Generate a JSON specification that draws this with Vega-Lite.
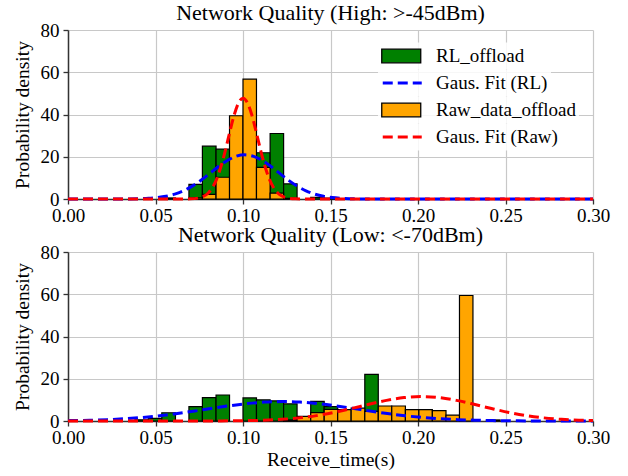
{
  "$schema": "https://vega.github.io/schema/vega-lite/v6.json",
  "background": "white",
  "padding": {"left": 12, "top": 2, "right": 6, "bottom": 2},
  "spacing": -1,
  "config": {
    "font": "Liberation Serif",
    "view": {"stroke": null},
    "axis": {
      "grid": true, "gridColor": "#c8c8c8", "gridWidth": 1.2,
      "domainColor": "#333333", "domainWidth": 1.5,
      "tickColor": "#333333", "tickSize": 5, "tickWidth": 1.3,
      "labelFont": "Liberation Serif", "labelFontSize": 19, "labelColor": "#000000", "labelPadding": 4, "labelFlush": false,
      "titleFont": "Liberation Serif", "titleFontSize": 19.5, "titleFontWeight": "normal", "titleColor": "#000000"
    },
    "axisX": {"labelPadding": 2},
    "legend": {
      "orient": "none", "title": null, "padding": 3, "clipHeight": 21,
      "fillColor": "rgba(255,255,255,0.85)",
      "labelFont": "Liberation Serif", "labelFontSize": 19, "labelColor": "#000000",
      "symbolSize": 380, "symbolOpacity": 1, "legendX": 310
    },
    "title": {"font": "Liberation Serif", "fontSize": 22, "fontWeight": "normal", "color": "#000000", "offset": -4}
  },
  "datasets": {
    "bars": [
      {"p": "High", "s": "RL_offload", "x0": 0.0536, "x1": 0.0614, "y": 0.5},
      {"p": "High", "s": "RL_offload", "x0": 0.0691, "x1": 0.0768, "y": 6.9},
      {"p": "High", "s": "RL_offload", "x0": 0.0768, "x1": 0.0846, "y": 25.0},
      {"p": "High", "s": "RL_offload", "x0": 0.0846, "x1": 0.0923, "y": 23.6},
      {"p": "High", "s": "RL_offload", "x0": 0.0923, "x1": 0.1000, "y": 10.0},
      {"p": "High", "s": "RL_offload", "x0": 0.1000, "x1": 0.1077, "y": 5.0},
      {"p": "High", "s": "RL_offload", "x0": 0.1077, "x1": 0.1155, "y": 21.9},
      {"p": "High", "s": "RL_offload", "x0": 0.1155, "x1": 0.1232, "y": 31.0},
      {"p": "High", "s": "RL_offload", "x0": 0.1232, "x1": 0.1309, "y": 7.2},
      {"p": "High", "s": "RL_offload", "x0": 0.1387, "x1": 0.1464, "y": 0.8},
      {"p": "High", "s": "RL_offload", "x0": 0.1464, "x1": 0.1541, "y": 0.4},
      {"p": "High", "s": "Raw_data_offload", "x0": 0.0691, "x1": 0.0768, "y": 0.6},
      {"p": "High", "s": "Raw_data_offload", "x0": 0.0768, "x1": 0.0846, "y": 2.2},
      {"p": "High", "s": "Raw_data_offload", "x0": 0.0846, "x1": 0.0923, "y": 10.3},
      {"p": "High", "s": "Raw_data_offload", "x0": 0.0923, "x1": 0.1000, "y": 39.4},
      {"p": "High", "s": "Raw_data_offload", "x0": 0.1000, "x1": 0.1077, "y": 56.7},
      {"p": "High", "s": "Raw_data_offload", "x0": 0.1077, "x1": 0.1155, "y": 15.0},
      {"p": "High", "s": "Raw_data_offload", "x0": 0.1155, "x1": 0.1232, "y": 2.8},
      {"p": "High", "s": "Raw_data_offload", "x0": 0.1232, "x1": 0.1309, "y": 0.3},
      {"p": "Low", "s": "RL_offload", "x0": 0.0382, "x1": 0.0459, "y": 0.6},
      {"p": "Low", "s": "RL_offload", "x0": 0.0459, "x1": 0.0536, "y": 1.2},
      {"p": "Low", "s": "RL_offload", "x0": 0.0536, "x1": 0.0614, "y": 3.9},
      {"p": "Low", "s": "RL_offload", "x0": 0.0691, "x1": 0.0768, "y": 6.8},
      {"p": "Low", "s": "RL_offload", "x0": 0.0768, "x1": 0.0846, "y": 11.1},
      {"p": "Low", "s": "RL_offload", "x0": 0.0846, "x1": 0.0923, "y": 12.3},
      {"p": "Low", "s": "RL_offload", "x0": 0.1000, "x1": 0.1077, "y": 10.9},
      {"p": "Low", "s": "RL_offload", "x0": 0.1077, "x1": 0.1155, "y": 10.0},
      {"p": "Low", "s": "RL_offload", "x0": 0.1155, "x1": 0.1232, "y": 9.5},
      {"p": "Low", "s": "RL_offload", "x0": 0.1232, "x1": 0.1309, "y": 8.1},
      {"p": "Low", "s": "RL_offload", "x0": 0.1309, "x1": 0.1387, "y": 1.5},
      {"p": "Low", "s": "RL_offload", "x0": 0.1387, "x1": 0.1464, "y": 9.3},
      {"p": "Low", "s": "RL_offload", "x0": 0.1464, "x1": 0.1541, "y": 6.8},
      {"p": "Low", "s": "RL_offload", "x0": 0.1541, "x1": 0.1618, "y": 5.0},
      {"p": "Low", "s": "RL_offload", "x0": 0.1618, "x1": 0.1696, "y": 5.0},
      {"p": "Low", "s": "RL_offload", "x0": 0.1696, "x1": 0.1773, "y": 22.1},
      {"p": "Low", "s": "RL_offload", "x0": 0.1773, "x1": 0.1850, "y": 3.0},
      {"p": "Low", "s": "RL_offload", "x0": 0.1850, "x1": 0.1928, "y": 2.0},
      {"p": "Low", "s": "Raw_data_offload", "x0": 0.1232, "x1": 0.1309, "y": 0.5},
      {"p": "Low", "s": "Raw_data_offload", "x0": 0.1309, "x1": 0.1387, "y": 2.2},
      {"p": "Low", "s": "Raw_data_offload", "x0": 0.1387, "x1": 0.1464, "y": 4.0},
      {"p": "Low", "s": "Raw_data_offload", "x0": 0.1464, "x1": 0.1541, "y": 5.5},
      {"p": "Low", "s": "Raw_data_offload", "x0": 0.1541, "x1": 0.1618, "y": 5.4},
      {"p": "Low", "s": "Raw_data_offload", "x0": 0.1618, "x1": 0.1696, "y": 6.1},
      {"p": "Low", "s": "Raw_data_offload", "x0": 0.1696, "x1": 0.1773, "y": 4.6},
      {"p": "Low", "s": "Raw_data_offload", "x0": 0.1773, "x1": 0.1850, "y": 7.1},
      {"p": "Low", "s": "Raw_data_offload", "x0": 0.1850, "x1": 0.1928, "y": 7.1},
      {"p": "Low", "s": "Raw_data_offload", "x0": 0.1928, "x1": 0.2005, "y": 5.4},
      {"p": "Low", "s": "Raw_data_offload", "x0": 0.2005, "x1": 0.2082, "y": 5.4},
      {"p": "Low", "s": "Raw_data_offload", "x0": 0.2082, "x1": 0.2160, "y": 4.9},
      {"p": "Low", "s": "Raw_data_offload", "x0": 0.2160, "x1": 0.2237, "y": 2.8},
      {"p": "Low", "s": "Raw_data_offload", "x0": 0.2237, "x1": 0.2314, "y": 59.4},
      {"p": "Low", "s": "Raw_data_offload", "x0": 0.2391, "x1": 0.2469, "y": 0.5}
    ],
    "curves": [
      {"p": "High", "s": "Gaus. Fit (RL)", "x": 0.0, "y": 0.0},
      {"p": "High", "s": "Gaus. Fit (RL)", "x": 0.021, "y": 0.0},
      {"p": "High", "s": "Gaus. Fit (RL)", "x": 0.031, "y": 0.025},
      {"p": "High", "s": "Gaus. Fit (RL)", "x": 0.041, "y": 0.15},
      {"p": "High", "s": "Gaus. Fit (RL)", "x": 0.046, "y": 0.33},
      {"p": "High", "s": "Gaus. Fit (RL)", "x": 0.051, "y": 0.68},
      {"p": "High", "s": "Gaus. Fit (RL)", "x": 0.056, "y": 1.30},
      {"p": "High", "s": "Gaus. Fit (RL)", "x": 0.061, "y": 2.33},
      {"p": "High", "s": "Gaus. Fit (RL)", "x": 0.066, "y": 3.90},
      {"p": "High", "s": "Gaus. Fit (RL)", "x": 0.071, "y": 6.08},
      {"p": "High", "s": "Gaus. Fit (RL)", "x": 0.076, "y": 8.87},
      {"p": "High", "s": "Gaus. Fit (RL)", "x": 0.081, "y": 12.1},
      {"p": "High", "s": "Gaus. Fit (RL)", "x": 0.086, "y": 15.4},
      {"p": "High", "s": "Gaus. Fit (RL)", "x": 0.091, "y": 18.2},
      {"p": "High", "s": "Gaus. Fit (RL)", "x": 0.096, "y": 20.2},
      {"p": "High", "s": "Gaus. Fit (RL)", "x": 0.101, "y": 20.9},
      {"p": "High", "s": "Gaus. Fit (RL)", "x": 0.106, "y": 20.2},
      {"p": "High", "s": "Gaus. Fit (RL)", "x": 0.111, "y": 18.2},
      {"p": "High", "s": "Gaus. Fit (RL)", "x": 0.116, "y": 15.4},
      {"p": "High", "s": "Gaus. Fit (RL)", "x": 0.121, "y": 12.1},
      {"p": "High", "s": "Gaus. Fit (RL)", "x": 0.126, "y": 8.87},
      {"p": "High", "s": "Gaus. Fit (RL)", "x": 0.131, "y": 6.08},
      {"p": "High", "s": "Gaus. Fit (RL)", "x": 0.136, "y": 3.90},
      {"p": "High", "s": "Gaus. Fit (RL)", "x": 0.141, "y": 2.33},
      {"p": "High", "s": "Gaus. Fit (RL)", "x": 0.146, "y": 1.30},
      {"p": "High", "s": "Gaus. Fit (RL)", "x": 0.151, "y": 0.68},
      {"p": "High", "s": "Gaus. Fit (RL)", "x": 0.156, "y": 0.33},
      {"p": "High", "s": "Gaus. Fit (RL)", "x": 0.161, "y": 0.15},
      {"p": "High", "s": "Gaus. Fit (RL)", "x": 0.171, "y": 0.025},
      {"p": "High", "s": "Gaus. Fit (RL)", "x": 0.181, "y": 0.0},
      {"p": "High", "s": "Gaus. Fit (RL)", "x": 0.3, "y": 0.0},
      {"p": "High", "s": "Gaus. Fit (Raw)", "x": 0.0, "y": 0.0},
      {"p": "High", "s": "Gaus. Fit (Raw)", "x": 0.06, "y": 0.0},
      {"p": "High", "s": "Gaus. Fit (Raw)", "x": 0.065, "y": 0.007},
      {"p": "High", "s": "Gaus. Fit (Raw)", "x": 0.07, "y": 0.08},
      {"p": "High", "s": "Gaus. Fit (Raw)", "x": 0.075, "y": 0.55},
      {"p": "High", "s": "Gaus. Fit (Raw)", "x": 0.0775, "y": 1.28},
      {"p": "High", "s": "Gaus. Fit (Raw)", "x": 0.08, "y": 2.73},
      {"p": "High", "s": "Gaus. Fit (Raw)", "x": 0.0825, "y": 5.34},
      {"p": "High", "s": "Gaus. Fit (Raw)", "x": 0.085, "y": 9.54},
      {"p": "High", "s": "Gaus. Fit (Raw)", "x": 0.0875, "y": 15.6},
      {"p": "High", "s": "Gaus. Fit (Raw)", "x": 0.09, "y": 23.3},
      {"p": "High", "s": "Gaus. Fit (Raw)", "x": 0.0925, "y": 31.9},
      {"p": "High", "s": "Gaus. Fit (Raw)", "x": 0.095, "y": 39.9},
      {"p": "High", "s": "Gaus. Fit (Raw)", "x": 0.0975, "y": 45.6},
      {"p": "High", "s": "Gaus. Fit (Raw)", "x": 0.1, "y": 47.7},
      {"p": "High", "s": "Gaus. Fit (Raw)", "x": 0.1025, "y": 45.6},
      {"p": "High", "s": "Gaus. Fit (Raw)", "x": 0.105, "y": 39.9},
      {"p": "High", "s": "Gaus. Fit (Raw)", "x": 0.1075, "y": 31.9},
      {"p": "High", "s": "Gaus. Fit (Raw)", "x": 0.11, "y": 23.3},
      {"p": "High", "s": "Gaus. Fit (Raw)", "x": 0.1125, "y": 15.6},
      {"p": "High", "s": "Gaus. Fit (Raw)", "x": 0.115, "y": 9.54},
      {"p": "High", "s": "Gaus. Fit (Raw)", "x": 0.1175, "y": 5.34},
      {"p": "High", "s": "Gaus. Fit (Raw)", "x": 0.12, "y": 2.73},
      {"p": "High", "s": "Gaus. Fit (Raw)", "x": 0.1225, "y": 1.28},
      {"p": "High", "s": "Gaus. Fit (Raw)", "x": 0.125, "y": 0.55},
      {"p": "High", "s": "Gaus. Fit (Raw)", "x": 0.13, "y": 0.08},
      {"p": "High", "s": "Gaus. Fit (Raw)", "x": 0.135, "y": 0.007},
      {"p": "High", "s": "Gaus. Fit (Raw)", "x": 0.14, "y": 0.0},
      {"p": "High", "s": "Gaus. Fit (Raw)", "x": 0.3, "y": 0.0},
      {"p": "Low", "s": "Gaus. Fit (RL)", "x": 0.0, "y": 0.171},
      {"p": "Low", "s": "Gaus. Fit (RL)", "x": 0.0025, "y": 0.201},
      {"p": "Low", "s": "Gaus. Fit (RL)", "x": 0.0125, "y": 0.370},
      {"p": "Low", "s": "Gaus. Fit (RL)", "x": 0.0225, "y": 0.646},
      {"p": "Low", "s": "Gaus. Fit (RL)", "x": 0.0325, "y": 1.07},
      {"p": "Low", "s": "Gaus. Fit (RL)", "x": 0.0425, "y": 1.68},
      {"p": "Low", "s": "Gaus. Fit (RL)", "x": 0.0525, "y": 2.50},
      {"p": "Low", "s": "Gaus. Fit (RL)", "x": 0.0625, "y": 3.53},
      {"p": "Low", "s": "Gaus. Fit (RL)", "x": 0.0725, "y": 4.73},
      {"p": "Low", "s": "Gaus. Fit (RL)", "x": 0.0825, "y": 6.01},
      {"p": "Low", "s": "Gaus. Fit (RL)", "x": 0.0925, "y": 7.24},
      {"p": "Low", "s": "Gaus. Fit (RL)", "x": 0.1025, "y": 8.26},
      {"p": "Low", "s": "Gaus. Fit (RL)", "x": 0.1125, "y": 8.95},
      {"p": "Low", "s": "Gaus. Fit (RL)", "x": 0.1225, "y": 9.19},
      {"p": "Low", "s": "Gaus. Fit (RL)", "x": 0.1325, "y": 8.95},
      {"p": "Low", "s": "Gaus. Fit (RL)", "x": 0.1425, "y": 8.26},
      {"p": "Low", "s": "Gaus. Fit (RL)", "x": 0.1525, "y": 7.24},
      {"p": "Low", "s": "Gaus. Fit (RL)", "x": 0.1625, "y": 6.01},
      {"p": "Low", "s": "Gaus. Fit (RL)", "x": 0.1725, "y": 4.73},
      {"p": "Low", "s": "Gaus. Fit (RL)", "x": 0.1825, "y": 3.53},
      {"p": "Low", "s": "Gaus. Fit (RL)", "x": 0.1925, "y": 2.50},
      {"p": "Low", "s": "Gaus. Fit (RL)", "x": 0.2025, "y": 1.68},
      {"p": "Low", "s": "Gaus. Fit (RL)", "x": 0.2125, "y": 1.07},
      {"p": "Low", "s": "Gaus. Fit (RL)", "x": 0.2225, "y": 0.646},
      {"p": "Low", "s": "Gaus. Fit (RL)", "x": 0.2325, "y": 0.370},
      {"p": "Low", "s": "Gaus. Fit (RL)", "x": 0.2425, "y": 0.201},
      {"p": "Low", "s": "Gaus. Fit (RL)", "x": 0.2525, "y": 0.104},
      {"p": "Low", "s": "Gaus. Fit (RL)", "x": 0.2625, "y": 0.051},
      {"p": "Low", "s": "Gaus. Fit (RL)", "x": 0.2725, "y": 0.023},
      {"p": "Low", "s": "Gaus. Fit (RL)", "x": 0.2825, "y": 0.010},
      {"p": "Low", "s": "Gaus. Fit (RL)", "x": 0.2925, "y": 0.004},
      {"p": "Low", "s": "Gaus. Fit (RL)", "x": 0.3, "y": 0.002},
      {"p": "Low", "s": "Gaus. Fit (Raw)", "x": 0.0, "y": 0.0},
      {"p": "Low", "s": "Gaus. Fit (Raw)", "x": 0.062, "y": 0.002},
      {"p": "Low", "s": "Gaus. Fit (Raw)", "x": 0.072, "y": 0.010},
      {"p": "Low", "s": "Gaus. Fit (Raw)", "x": 0.082, "y": 0.027},
      {"p": "Low", "s": "Gaus. Fit (Raw)", "x": 0.092, "y": 0.072},
      {"p": "Low", "s": "Gaus. Fit (Raw)", "x": 0.102, "y": 0.173},
      {"p": "Low", "s": "Gaus. Fit (Raw)", "x": 0.112, "y": 0.385},
      {"p": "Low", "s": "Gaus. Fit (Raw)", "x": 0.122, "y": 0.79},
      {"p": "Low", "s": "Gaus. Fit (Raw)", "x": 0.132, "y": 1.48},
      {"p": "Low", "s": "Gaus. Fit (Raw)", "x": 0.142, "y": 2.55},
      {"p": "Low", "s": "Gaus. Fit (Raw)", "x": 0.152, "y": 4.04},
      {"p": "Low", "s": "Gaus. Fit (Raw)", "x": 0.162, "y": 5.90},
      {"p": "Low", "s": "Gaus. Fit (Raw)", "x": 0.172, "y": 7.92},
      {"p": "Low", "s": "Gaus. Fit (Raw)", "x": 0.182, "y": 9.77},
      {"p": "Low", "s": "Gaus. Fit (Raw)", "x": 0.192, "y": 11.08},
      {"p": "Low", "s": "Gaus. Fit (Raw)", "x": 0.202, "y": 11.56},
      {"p": "Low", "s": "Gaus. Fit (Raw)", "x": 0.212, "y": 11.08},
      {"p": "Low", "s": "Gaus. Fit (Raw)", "x": 0.222, "y": 9.77},
      {"p": "Low", "s": "Gaus. Fit (Raw)", "x": 0.232, "y": 7.92},
      {"p": "Low", "s": "Gaus. Fit (Raw)", "x": 0.242, "y": 5.90},
      {"p": "Low", "s": "Gaus. Fit (Raw)", "x": 0.252, "y": 4.04},
      {"p": "Low", "s": "Gaus. Fit (Raw)", "x": 0.262, "y": 2.55},
      {"p": "Low", "s": "Gaus. Fit (Raw)", "x": 0.272, "y": 1.48},
      {"p": "Low", "s": "Gaus. Fit (Raw)", "x": 0.282, "y": 0.79},
      {"p": "Low", "s": "Gaus. Fit (Raw)", "x": 0.292, "y": 0.385},
      {"p": "Low", "s": "Gaus. Fit (Raw)", "x": 0.3, "y": 0.21}
    ]
  },
  "resolve": {
    "scale": {"fill": "independent", "color": "independent", "stroke": "independent", "strokeDash": "independent"},
    "legend": {"fill": "independent", "color": "independent", "stroke": "independent", "strokeDash": "independent"}
  },
  "vconcat": [
    {
      "title": "Network Quality (High: >-45dBm)",
      "width": 525,
      "height": 169,
      "layer": [
        {
          "data": {"name": "bars"},
          "transform": [{"filter": "datum.p === 'High' && datum.s === 'RL_offload'"}],
          "mark": {"type": "bar", "stroke": "#000000", "strokeWidth": 1.2, "opacity": 1},
          "encoding": {
            "x": {"field": "x0", "type": "quantitative", "scale": {"domain": [0, 0.3], "nice": false},
                  "axis": {"values": [0, 0.05, 0.1, 0.15, 0.2, 0.25, 0.3], "format": ".2f", "title": null}},
            "x2": {"field": "x1"},
            "y": {"field": "y", "type": "quantitative", "scale": {"domain": [0, 80], "nice": false},
                  "axis": {"values": [0, 20, 40, 60, 80], "title": "Probability density", "titlePadding": 8}},
            "y2": {"datum": 0},
            "fill": {
              "field": "s", "type": "nominal",
              "scale": {"domain": ["RL_offload"], "range": ["#008000"]},
              "legend": {"legendY": 12.5, "symbolType": "M-1,-0.7H3V0.7H-1Z", "symbolStrokeColor": "#000000", "symbolStrokeWidth": 1.3, "labelOffset": 34}
            }
          }
        },
        {
          "data": {"name": "bars"},
          "transform": [{"filter": "datum.p === 'High' && datum.s === 'Raw_data_offload'"}],
          "mark": {"type": "bar", "stroke": "#000000", "strokeWidth": 1.2, "opacity": 1},
          "encoding": {
            "x": {"field": "x0", "type": "quantitative"},
            "x2": {"field": "x1"},
            "y": {"field": "y", "type": "quantitative"},
            "y2": {"datum": 0},
            "color": {
              "field": "s", "type": "nominal",
              "scale": {"domain": ["Raw_data_offload"], "range": ["#ffa500"]},
              "legend": {"legendY": 66.5, "symbolType": "M-1,-0.7H3V0.7H-1Z", "symbolStrokeColor": "#000000", "symbolStrokeWidth": 1.3, "labelOffset": 34}
            }
          }
        },
        {
          "data": {"name": "curves"},
          "transform": [{"filter": "datum.p === 'High' && datum.s === 'Gaus. Fit (RL)'"}],
          "mark": {"type": "line", "strokeWidth": 3, "strokeDash": [10, 5], "interpolate": "monotone"},
          "encoding": {
            "x": {"field": "x", "type": "quantitative"},
            "y": {"field": "y", "type": "quantitative"},
            "stroke": {
              "field": "s", "type": "nominal",
              "scale": {"domain": ["Gaus. Fit (RL)"], "range": ["#0000ff"]},
              "legend": {"legendY": 39.5, "symbolType": "M-1,0H3", "symbolDash": [10, 5], "symbolStrokeWidth": 3, "labelOffset": 32}
            }
          }
        },
        {
          "data": {"name": "curves"},
          "transform": [{"filter": "datum.p === 'High' && datum.s === 'Gaus. Fit (Raw)'"}],
          "mark": {"type": "line", "color": "#ff0000", "strokeWidth": 3, "interpolate": "monotone"},
          "encoding": {
            "x": {"field": "x", "type": "quantitative"},
            "y": {"field": "y", "type": "quantitative"},
            "strokeDash": {
              "field": "s", "type": "nominal",
              "scale": {"domain": ["Gaus. Fit (Raw)"], "range": [[10, 5]]},
              "legend": {"legendY": 93.5, "symbolType": "M-1,0H3", "symbolStrokeColor": "#ff0000", "symbolStrokeWidth": 3, "labelOffset": 32}
            }
          }
        }
      ]
    },
    {
      "title": "Network Quality (Low: <-70dBm)",
      "width": 525,
      "height": 169,
      "layer": [
        {
          "data": {"name": "bars"},
          "transform": [{"filter": "datum.p === 'Low' && datum.s === 'RL_offload'"}],
          "mark": {"type": "bar", "fill": "#008000", "stroke": "#000000", "strokeWidth": 1.2, "opacity": 1},
          "encoding": {
            "x": {"field": "x0", "type": "quantitative", "scale": {"domain": [0, 0.3], "nice": false},
                  "axis": {"values": [0, 0.05, 0.1, 0.15, 0.2, 0.25, 0.3], "format": ".2f", "title": "Receive_time(s)", "titlePadding": 3}},
            "x2": {"field": "x1"},
            "y": {"field": "y", "type": "quantitative", "scale": {"domain": [0, 80], "nice": false},
                  "axis": {"values": [0, 20, 40, 60, 80], "title": "Probability density", "titlePadding": 8}},
            "y2": {"datum": 0}
          }
        },
        {
          "data": {"name": "bars"},
          "transform": [{"filter": "datum.p === 'Low' && datum.s === 'Raw_data_offload'"}],
          "mark": {"type": "bar", "fill": "#ffa500", "stroke": "#000000", "strokeWidth": 1.2, "opacity": 1},
          "encoding": {
            "x": {"field": "x0", "type": "quantitative"},
            "x2": {"field": "x1"},
            "y": {"field": "y", "type": "quantitative"},
            "y2": {"datum": 0}
          }
        },
        {
          "data": {"name": "curves"},
          "transform": [{"filter": "datum.p === 'Low' && datum.s === 'Gaus. Fit (RL)'"}],
          "mark": {"type": "line", "color": "#0000ff", "strokeWidth": 3, "strokeDash": [10, 5], "interpolate": "monotone"},
          "encoding": {
            "x": {"field": "x", "type": "quantitative"},
            "y": {"field": "y", "type": "quantitative"}
          }
        },
        {
          "data": {"name": "curves"},
          "transform": [{"filter": "datum.p === 'Low' && datum.s === 'Gaus. Fit (Raw)'"}],
          "mark": {"type": "line", "color": "#ff0000", "strokeWidth": 3, "strokeDash": [10, 5], "interpolate": "monotone"},
          "encoding": {
            "x": {"field": "x", "type": "quantitative"},
            "y": {"field": "y", "type": "quantitative"}
          }
        }
      ]
    }
  ]
}
